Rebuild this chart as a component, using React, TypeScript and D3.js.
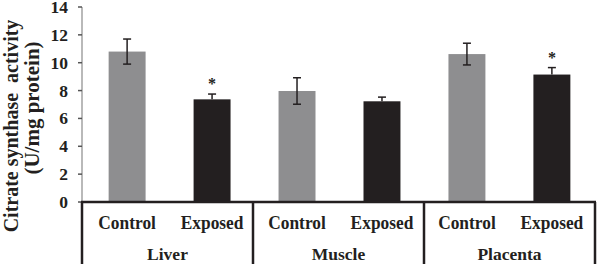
import React from "react";
import * as d3 from "d3";

const groups = ["Liver", "Muscle", "Placenta"];
const conditions = ["Control", "Exposed"];
const meanValues = [10.8, 7.37, 7.97, 7.23, 10.62, 9.15];
const errorValues = [0.9, 0.38, 0.95, 0.3, 0.78, 0.5];
const significant = [false, true, false, false, false, true];
const yTicks = [0, 2, 4, 6, 8, 10, 12, 14];

const W = 598;
const H = 264;
const left = 82;
const right = 595;
const top = 7;
const bottom = 202;

export default function App() {
  const y = d3.scaleLinear().domain([0, 14]).range([bottom, top]);
  const keys = groups.flatMap((g) => conditions.map((c) => `${g}|${c}`));
  const x = d3.scaleBand().domain(keys).range([left + 2, right]).paddingInner(0.565).paddingOuter(0.29);
  const gx = d3.scaleBand().domain(groups).range([left, right]);
  const font = "'Liberation Serif', 'Times New Roman', 'DejaVu Serif', serif";
  const colors = ["#8e8e90", "#231f20"];
  const ts = { fontFamily: font, fontWeight: 700 as const, fontSize: 17 };

  return (
    <svg width={W} height={H} style={{ position: "absolute", left: 0, top: 0 }}>
      {/* y axis */}
      <line x1={left} x2={left} y1={top} y2={bottom} stroke="#8a8a8a" strokeWidth={1.2} />
      {yTicks.map((t) => (
        <g key={t}>
          <line x1={left - 4} x2={left} y1={y(t)} y2={y(t)} stroke="#555" strokeWidth={1.5} />
          <text x={68} y={y(t) + 6} textAnchor="end" style={{ ...ts, fontSize: 17.5 }} fill="#231f20">
            {t}
          </text>
        </g>
      ))}
      {/* bars */}
      {keys.map((k, i) => {
        const bx = x(k)!;
        const bw = x.bandwidth();
        const cx = bx + bw / 2;
        const v = meanValues[i];
        const e = errorValues[i];
        const isExp = i % 2 === 1;
        return (
          <g key={k}>
            <rect x={bx} y={y(v)} width={bw} height={bottom - y(v)} fill={colors[i % 2]} />
            <line x1={cx} x2={cx} y1={y(v + e)} y2={isExp ? y(v) : y(v - e)} stroke="#231f20" strokeWidth={1.5} />
            <line x1={cx - 4} x2={cx + 4} y1={y(v + e)} y2={y(v + e)} stroke="#231f20" strokeWidth={1.5} />
            {!isExp && (
              <line x1={cx - 4} x2={cx + 4} y1={y(v - e)} y2={y(v - e)} stroke="#231f20" strokeWidth={1.5} />
            )}
            {significant[i] && (
              <text x={cx} y={y(v + e) - 5} textAnchor="middle" style={{ ...ts, fontSize: 16 }} fill="#231f20">
                *
              </text>
            )}
            <text transform={`translate(${cx},229) scale(0.94,1)`} textAnchor="middle" style={{ ...ts, fontSize: 18.5 }} fill="#231f20">
              {conditions[i % 2]}
            </text>
          </g>
        );
      })}
      {/* bottom axis and separators */}
      <line x1={left - 1} x2={right + 1} y1={bottom} y2={bottom} stroke="#231f20" strokeWidth={2.5} />
      {groups.map((g) => (
        <line key={`s-${g}`} x1={gx(g)!} x2={gx(g)!} y1={bottom} y2={H} stroke="#231f20" strokeWidth={2.5} />
      ))}
      <line x1={right} x2={right} y1={bottom} y2={H} stroke="#231f20" strokeWidth={2.5} />
      {groups.map((g) => (
        <text key={`g-${g}`} x={gx(g)! + gx.bandwidth() / 2} y={260} textAnchor="middle" style={{ ...ts, fontSize: 17.5 }} fill="#231f20">
          {g}
        </text>
      ))}
      {/* y title */}
      <text transform={`translate(17.5, 126) rotate(-90)`} textAnchor="middle" style={{ ...ts, fontSize: 20, whiteSpace: "pre" }} fill="#231f20">
        {"Citrate synthase  activity"}
      </text>
      <text transform={`translate(38.5, 108) rotate(-90)`} textAnchor="middle" style={{ ...ts, fontSize: 21 }} fill="#231f20">
        (U/mg protein)
      </text>
    </svg>
  );
}
